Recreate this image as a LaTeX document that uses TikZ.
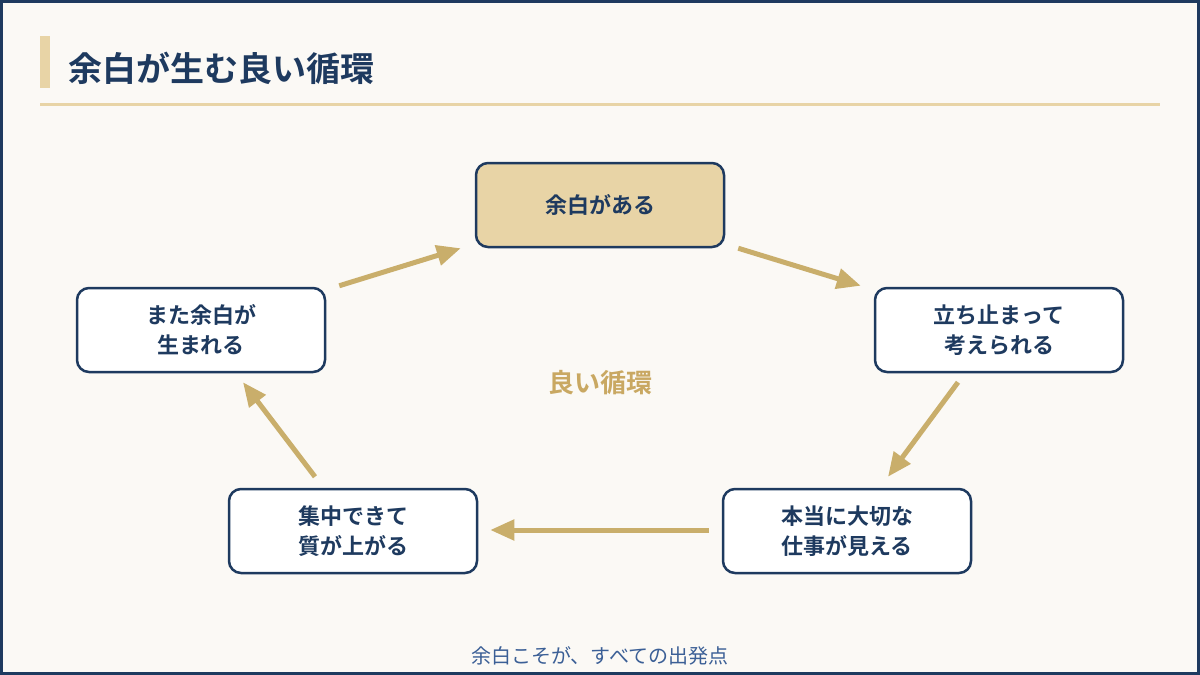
\documentclass[tikz,border=0pt]{standalone}
\usepackage{fontspec}
\setmainfont{Noto Sans CJK JP}[BoldFont={Noto Sans CJK JP Bold}]
\usetikzlibrary{arrows.meta,calc}
\definecolor{navy}{HTML}{1E3A5F}
\definecolor{goldfill}{HTML}{E8D4A6}
\definecolor{arrowgold}{HTML}{C9AE6B}
\definecolor{centergold}{HTML}{C9A862}
\definecolor{bgcol}{HTML}{FBF9F5}
\definecolor{footblue}{HTML}{3B5F96}
\tikzset{
  stepbox/.style={draw=navy, line width=1.25pt, rounded corners=6pt, fill=white,
    minimum width=124pt, minimum height=42pt, inner sep=0pt, align=center,
    font=\fontsize{11pt}{15pt}\selectfont\bfseries, text=navy},
  flow/.style={draw=arrowgold, line width=2.5pt, -{Triangle[length=12pt,width=10pt]}}
}
\begin{document}
\begin{tikzpicture}[x=0.5pt,y=-0.5pt]
\fill[bgcol] (0,0) rectangle (1200,675);
\useasboundingbox (0,0) rectangle (1200,675);
\draw[navy, line width=1.5pt] (1.5,1.5) rectangle (1198.5,673.5);
% title
\fill[goldfill] (40,36) rectangle (50,88);
\node[anchor=west, text=navy, font=\fontsize{17pt}{20pt}\selectfont\bfseries, inner sep=0pt] (title) at (68,68) {余白が生む良い循環};
\fill[goldfill] (40,103) rectangle (1160,106);
% nodes
\node[stepbox, fill=goldfill] (top) at (600,205) {余白がある};
\node[stepbox] (right) at (999,330) {立ち止まって\\考えられる};
\node[stepbox] (br) at (847,531) {本当に大切な\\仕事が見える};
\node[stepbox] (bl) at (353,531) {集中できて\\質が上がる};
\node[stepbox] (left) at (201,330) {また余白が\\生まれる};
\node[text=centergold, font=\fontsize{13pt}{15pt}\selectfont\bfseries] (center) at (600,383) {良い循環};
% arrows
\draw[flow] ($(top.south east)+(13,0)$) -- ($(right.north west)+(-13,-1)$);
\draw[flow] ($(right.south)+(-41,9)$) -- ($(br.north)+(41,-11)$);
\draw[flow] ($(br.west)+(-13,-1)$) -- ($(bl.east)+(12,-1)$);
\draw[flow] ($(bl.north)+(-38,-11)$) -- ($(left.south)+(42,9)$);
\draw[flow] ($(left.north east)+(13,-1)$) -- ($(top.south west)+(-14,0)$);
% footer
\node[text=footblue, font=\fontsize{10pt}{12pt}\selectfont] (foot) at (600,656) {余白こそが、すべての出発点};
\end{tikzpicture}
\end{document}
